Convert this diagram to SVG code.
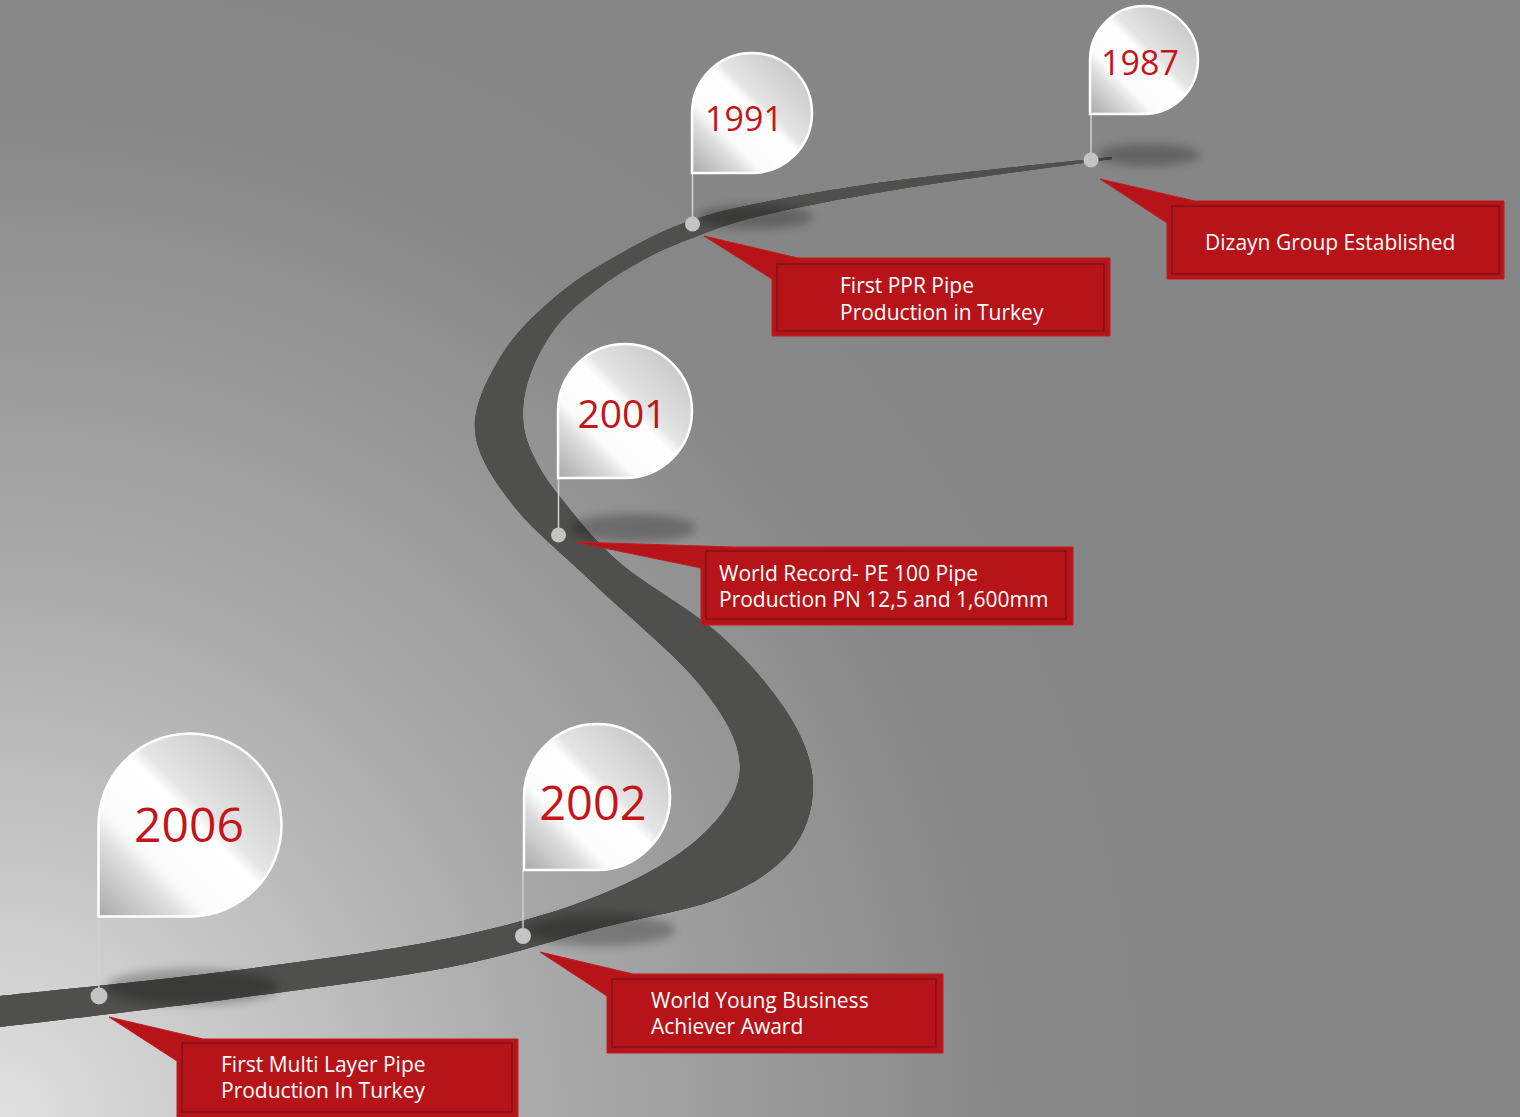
<svg xmlns="http://www.w3.org/2000/svg" width="1520" height="1117" viewBox="0 0 1520 1117">
  <defs>
    <radialGradient id="bg" gradientUnits="userSpaceOnUse" cx="0" cy="1117" r="1180">
      <stop offset="0" stop-color="#e0e0e0"/>
      <stop offset="0.45" stop-color="#ababab"/>
      <stop offset="0.85" stop-color="#888888"/>
      <stop offset="1" stop-color="#868686"/>
    </radialGradient>
    <linearGradient id="bubble" x1="0" y1="1" x2="1" y2="0">
      <stop offset="0" stop-color="#a9a9a9"/>
      <stop offset="0.22" stop-color="#dedede"/>
      <stop offset="0.3" stop-color="#fbfbfb"/>
      <stop offset="0.52" stop-color="#ffffff"/>
      <stop offset="0.58" stop-color="#e4e4e4"/>
      <stop offset="1" stop-color="#bdbdbd"/>
    </linearGradient>
    <radialGradient id="roadLight" gradientUnits="userSpaceOnUse" cx="660" cy="935" r="460">
      <stop offset="0" stop-color="#ffffff" stop-opacity="0.2"/>
      <stop offset="1" stop-color="#ffffff" stop-opacity="0"/>
    </radialGradient>
    <radialGradient id="roadDark" gradientUnits="userSpaceOnUse" cx="820" cy="200" r="330">
      <stop offset="0" stop-color="#000000" stop-opacity="0.22"/>
      <stop offset="1" stop-color="#000000" stop-opacity="0"/>
    </radialGradient>
    <filter id="blur" x="-50%" y="-100%" width="200%" height="300%">
      <feGaussianBlur stdDeviation="5"/>
    </filter>
    <style>
      .bubble { fill: url(#bubble); stroke: #ffffff; stroke-width: 2.5; }
      .year { font-family: "Open Sans", "Noto Sans", "Liberation Sans", sans-serif; fill: #c3161c; text-anchor: middle; }
      .stem { stroke: #d2d2d2; stroke-width: 1.5; fill: none; }
      .dot { fill: #c4c4c4; }
      .shadow { fill: #000000; opacity: 0.26; filter: url(#blur); }
      .callout { fill: #b71419; stroke: #c01d22; stroke-width: 1; }
      .inner { fill: none; stroke: #7e1217; stroke-width: 1.5; }
      .label { font-family: "Open Sans", "Noto Sans", "Liberation Sans", sans-serif; font-size: 21px; fill: #ffffff; }
    </style>
  </defs>

  <rect x="0" y="0" width="1520" height="1117" fill="url(#bg)"/>

  <g id="road">
    <path id="roadShape" fill="#4f4f4d" d="M1112,157 C1076.7,160.8 958.7,172.3 900,180 C841.3,187.7 795.5,196 760,203 C724.5,210 709.2,214.2 687,222 C664.8,229.8 648.2,238.2 627,250 C605.8,261.8 580.7,275.8 560,293 C539.3,310.2 517.2,330.2 503,353 C488.8,375.8 473.3,404.7 475,430 C476.7,455.3 493.3,479.5 513,505 C532.7,530.5 561.8,553 593,583 C624.2,613 675.5,654.3 700,685 C724.5,715.7 740,741.7 740,767 C740,792.3 723.3,815.7 700,837 C676.7,858.3 641.7,878.2 600,895 C558.3,911.8 511.7,925.3 450,938 C388.3,950.7 305,961.3 230,971 C155,980.7 38.3,991.8 0,996 L-3,996 L-3,1028 L0,1027 C38.3,1022.3 155,1009 230,999 C305,989 388.3,978.8 450,967 C511.7,955.2 555,939.5 600,928 C645,916.5 688.3,910.7 720,898 C751.7,885.3 774.5,870.5 790,852 C805.5,833.5 813,809.5 813,787 C813,764.5 805.5,742.3 790,717 C774.5,691.7 748.3,660.7 720,635 C691.7,609.3 646.7,586 620,563 C593.3,540 574.5,515 560,497 C545.5,479 539.2,468.2 533,455 C526.8,441.8 523.5,431.3 523,418 C522.5,404.7 524.5,390.2 530,375 C535.5,359.8 545,341.2 556,327 C567,312.8 581.5,301.2 596,290 C610.5,278.8 627,268.7 643,260 C659,251.3 672.5,245.3 692,238 C711.5,230.7 725.3,224.2 760,216 C794.7,207.8 841.3,198.5 900,189 C958.7,179.5 1076.7,164 1112,159 Z"/>
    <use href="#roadShape" fill="url(#roadLight)"/>
    <use href="#roadShape" fill="url(#roadDark)"/>
  </g>

  <g id="connectors">
    <line class="stem" x1="1091" y1="114" x2="1091" y2="160"/>
    <line class="stem" x1="692.5" y1="173" x2="692.5" y2="224"/>
    <line class="stem" x1="558.5" y1="478" x2="558.5" y2="535"/>
    <line class="stem" x1="523" y1="870" x2="523" y2="936"/>
    <line class="stem" x1="99" y1="916" x2="99" y2="996"/>
  </g>

  <g id="node-1987">
    <ellipse class="shadow" cx="1148" cy="155" rx="52" ry="11"/>
    <circle class="dot" cx="1091" cy="160" r="7.5"/>
    <path class="bubble" d="M1090,114 L1090,60 A54,54 0 0 1 1144,6 A54,54 0 0 1 1198,60 A54,54 0 0 1 1144,114 Z"/>
    <text class="year" x="1140" y="75" font-size="34">1987</text>
    <path class="callout" d="M1100,179 L1195,201 L1504,201 L1504,279 L1167,279 L1167,223 Z"/>
    <rect class="inner" x="1172" y="206" width="327" height="68"/>
    <text class="label" x="1205" y="250">Dizayn Group Established</text>
  </g>

  <g id="node-1991">
    <ellipse class="shadow" cx="755" cy="217" rx="58" ry="12"/>
    <circle class="dot" cx="692.5" cy="224" r="7.5"/>
    <path class="bubble" d="M692,173 L692,113 A60,60 0 0 1 752,53 A60,60 0 0 1 812,113 A60,60 0 0 1 752,173 Z"/>
    <text class="year" x="744" y="131" font-size="34">1991</text>
    <path class="callout" d="M704,236 L798,258 L1110,258 L1110,336 L772,336 L772,279 Z"/>
    <rect class="inner" x="777" y="264" width="327" height="67"/>
    <text class="label" x="840" y="293">First PPR Pipe</text>
    <text class="label" x="840" y="320">Production in Turkey</text>
  </g>

  <g id="node-2001">
    <ellipse class="shadow" cx="633" cy="528" rx="63" ry="14"/>
    <circle class="dot" cx="558.5" cy="535" r="7.5"/>
    <path class="bubble" d="M558,478 L558,411 A67,67 0 0 1 625,344 A67,67 0 0 1 692,411 A67,67 0 0 1 625,478 Z"/>
    <text class="year" x="622" y="428" font-size="39">2001</text>
    <path class="callout" d="M575,542 L733,547 L1073,547 L1073,625 L701,625 L701,568 Z"/>
    <rect class="inner" x="706" y="551" width="360" height="68"/>
    <text class="label" x="719" y="581">World Record- PE 100 Pipe</text>
    <text class="label" x="719" y="607">Production PN 12,5 and 1,600mm</text>
  </g>

  <g id="node-2002">
    <ellipse class="shadow" cx="600" cy="930" rx="75" ry="16"/>
    <circle class="dot" cx="523" cy="936" r="8"/>
    <path class="bubble" d="M524,870 L524,797 A73,73 0 0 1 597,724 A73,73 0 0 1 670,797 A73,73 0 0 1 597,870 Z"/>
    <text class="year" x="593" y="820" font-size="47">2002</text>
    <path class="callout" d="M540,952 L633,974 L943,974 L943,1053 L607,1053 L607,996 Z"/>
    <rect class="inner" x="612" y="979" width="324" height="68"/>
    <text class="label" x="651" y="1008">World Young Business</text>
    <text class="label" x="651" y="1034">Achiever Award</text>
  </g>

  <g id="node-2006">
    <ellipse class="shadow" cx="192" cy="987" rx="86" ry="18"/>
    <circle class="dot" cx="99" cy="996" r="8.5"/>
    <path class="bubble" d="M98.5,916.5 L98.5,825 A91.5,91.5 0 0 1 190,733.5 A91.5,91.5 0 0 1 281.5,825 A91.5,91.5 0 0 1 190,916.5 Z"/>
    <text class="year" x="189" y="842" font-size="48">2006</text>
    <path class="callout" d="M109,1017 L203,1039 L518,1039 L518,1117 L177,1117 L177,1061 Z"/>
    <rect class="inner" x="182" y="1043" width="330" height="69"/>
    <text class="label" x="221" y="1072">First Multi Layer Pipe</text>
    <text class="label" x="221" y="1098">Production In Turkey</text>
  </g>
</svg>
